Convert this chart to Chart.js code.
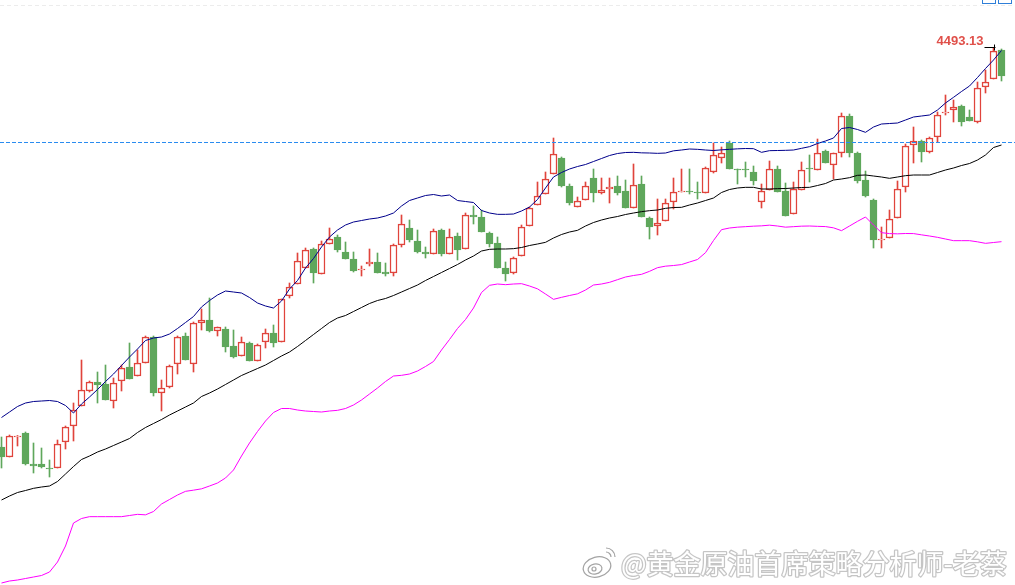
<!DOCTYPE html>
<html lang="zh-CN">
<head>
<meta charset="UTF-8">
<title>黄金 K线 布林带</title>
<script src="https://cdn.jsdelivr.net/npm/chart.js"></script>
<style>
  html, body { margin: 0; padding: 0; background: #fff; }
  #wrap { position: relative; width: 1015px; height: 585px; overflow: hidden; }
</style>
</head>
<body>
<div id="wrap"><canvas id="kline" width="1015" height="585"></canvas></div>
<script>
// OHLC, one value per candle
const opens = [
  4013.6, 4001.6, 4025.6, 4030.4, 3993.2, 3993.2, 3988.4, 3988.4, 4019.6, 4038.8,
  4062.8, 4080.8, 4091.6, 4089.2, 4068.8, 4092.8, 4109.6, 4098.8, 4114.4, 4145.6,
  4078.4, 4085.6, 4113.2, 4146.8, 4113.2, 4162.4, 4166, 4152.8, 4155.2, 4134.8,
  4122.8, 4138.4, 4116.8, 4139.6, 4150.4, 4139.6, 4194.8, 4209.2, 4228.4, 4251.2,
  4221.2, 4257.2, 4265.6, 4247.6, 4239.2, 4226, 4233.2, 4235.6, 4223.6, 4222.4,
  4256, 4276.4, 4260.8, 4247.6, 4245.2, 4274, 4245.2, 4266.8, 4251.2, 4292,
  4289.6, 4270.4, 4258.4, 4228.4, 4222.4, 4242.8, 4278.8, 4304, 4317.2, 4341.2,
  4360.4, 4326.8, 4301.6, 4310, 4336.4, 4318.4, 4323.2, 4326.8, 4320.8, 4300.4,
  4329.2, 4288.4, 4278.8, 4284.8, 4307.6, 4319.6, 4320.8, 4319.6, 4318.4, 4343.6,
  4360.4, 4378.4, 4347.2, 4347.2, 4343.6, 4307.6, 4322, 4347.2, 4320.8, 4293.2,
  4322, 4348.4, 4346, 4368.8, 4352, 4366.4, 4410.8, 4366.4, 4334, 4310,
  4262, 4264.4, 4288.4, 4325.6, 4376, 4380.8, 4367.6, 4385.6, 4414.4, 4418,
  4422.8, 4409.6, 4403.6, 4445.6, 4455.2, 4490
];
const highs = [
  4025.6, 4028, 4027.4, 4031.6, 4018.4, 4012.4, 3998, 4022, 4038.8, 4066.4,
  4118, 4092.8, 4103.6, 4112, 4096.4, 4112, 4138.4, 4130, 4146.8, 4146.8,
  4094, 4112, 4146.8, 4150.4, 4163.6, 4179.2, 4192.4, 4157.6, 4157.6, 4154,
  4145.6, 4139.6, 4137.2, 4155.2, 4160, 4191.2, 4210.4, 4246.4, 4252.4, 4252.4,
  4260.8, 4276.4, 4268, 4259.6, 4247.6, 4230.8, 4251.2, 4246.4, 4234.4, 4257.2,
  4292, 4286, 4274, 4253.6, 4275.2, 4275.2, 4275.2, 4270.4, 4294.4, 4302.8,
  4298, 4271.6, 4265.6, 4235.6, 4241.6, 4280, 4301.6, 4331.6, 4343.6, 4384.4,
  4361.6, 4329.2, 4313.6, 4331.6, 4347.2, 4336.4, 4336.4, 4338.8, 4334, 4353.2,
  4338.8, 4289.6, 4311.2, 4311.2, 4336.4, 4347.2, 4347.2, 4331.6, 4349.6, 4378.4,
  4373.6, 4380.8, 4347.2, 4355.6, 4350.8, 4329.2, 4356.8, 4350.8, 4330.4, 4331.6,
  4355.6, 4364, 4383.2, 4370, 4366.4, 4414.4, 4413.2, 4367.6, 4344.8, 4311.2,
  4277.6, 4298, 4332.8, 4377.2, 4397.6, 4382, 4385.6, 4415.6, 4436, 4430,
  4424, 4418, 4451.6, 4466, 4493.13, 4491.2
];
const lows = [
  3988.4, 4001.6, 4014.8, 3992, 3982.4, 3988.4, 3977.6, 3988.4, 4011.2, 4020.8,
  4062.8, 4079.6, 4066.4, 4070, 4060.4, 4080.8, 4095.2, 4098.8, 4114.4, 4074.8,
  4056.8, 4084.4, 4101.2, 4118, 4103.6, 4154, 4151.6, 4146.8, 4127.6, 4120.4,
  4122.8, 4116.8, 4116.8, 4132.4, 4133.6, 4139.6, 4192.4, 4209.2, 4228.4, 4210.4,
  4221.2, 4257.2, 4247.6, 4239.2, 4223.6, 4218.8, 4230.8, 4222.4, 4218.8, 4218.8,
  4253.6, 4259.6, 4246.4, 4240.4, 4245.2, 4242.8, 4245.2, 4238, 4251.2, 4281.2,
  4271.6, 4253.6, 4228.4, 4212.8, 4221.2, 4242.8, 4278.8, 4304, 4317.2, 4341.2,
  4325.6, 4304, 4301.6, 4310, 4307.6, 4317.2, 4306.4, 4316, 4300.4, 4300.4,
  4289.6, 4263.2, 4268, 4284.8, 4299.2, 4319.6, 4317.2, 4311.2, 4318.4, 4342.4,
  4354.4, 4347.2, 4329.2, 4337.6, 4328, 4300.4, 4322, 4319.6, 4290.8, 4293.2,
  4322, 4331.6, 4346, 4354.4, 4335.2, 4361.6, 4361.6, 4330.4, 4313.6, 4252.4,
  4252.4, 4264.4, 4288.4, 4319.6, 4354.4, 4355.6, 4366.4, 4379.6, 4412, 4403.6,
  4398.8, 4404.8, 4402.4, 4438.4, 4455.2, 4452.8
];
const closes = [
  4001.6, 4026.8, 4026.8, 3993.2, 3990.8, 3989.6, 3987.2, 4017.2, 4037.6, 4058,
  4082, 4091.6, 4088, 4070, 4090.4, 4108.4, 4095.2, 4114.4, 4145.6, 4078.4,
  4084.4, 4110.8, 4145.6, 4118, 4162.4, 4166, 4152.8, 4157.6, 4133.6, 4121.6,
  4139.6, 4116.8, 4136, 4150.4, 4138.4, 4191.2, 4205.6, 4236.8, 4250, 4222.4,
  4257.2, 4263.2, 4250, 4239.2, 4224.8, 4227.2, 4235.6, 4222.4, 4221.2, 4256,
  4281.2, 4262, 4247.6, 4245.2, 4272.8, 4245.2, 4265.6, 4250, 4292, 4289.6,
  4271.6, 4257.2, 4228.4, 4221.2, 4240.4, 4277.6, 4300.4, 4314.8, 4335.2, 4365.2,
  4326.8, 4306.4, 4308.8, 4326.8, 4318.4, 4322, 4325.6, 4318.4, 4300.4, 4328,
  4289.6, 4277.6, 4282.4, 4306.4, 4319.6, 4320.8, 4319.6, 4318.4, 4348.4, 4364,
  4366.4, 4347.2, 4346, 4346, 4332.8, 4320.8, 4347.2, 4319.6, 4290.8, 4323.2,
  4346, 4347.2, 4366.4, 4354.4, 4366.4, 4410.8, 4366.4, 4332.8, 4314.8, 4262,
  4263.2, 4287.2, 4323.2, 4374.8, 4380.8, 4367.6, 4384.4, 4412, 4415.6, 4421.6,
  4403.6, 4404.8, 4444.4, 4451.6, 4488.8, 4458.8
];

// Bollinger bands
const upperBand = [
  4049, 4055.6, 4062.2, 4066.4, 4068.2, 4068.8, 4069.4, 4068.2, 4063.4, 4054.4,
  4065.2, 4073.6, 4082.6, 4092.2, 4101.2, 4111.4, 4121.6, 4131.2, 4141.4, 4144.4,
  4145.6, 4149.2, 4155.8, 4163, 4170.2, 4181.6, 4189.4, 4196, 4200.8, 4199.6,
  4198.4, 4193, 4186.4, 4182.8, 4180.4, 4188.8, 4203.2, 4213.4, 4228.4, 4239.8,
  4253.6, 4265.6, 4274, 4280, 4283.6, 4285.4, 4287.2, 4288.4, 4290.8, 4294.4,
  4302.8, 4309.4, 4312.4, 4315.4, 4316.6, 4314.8, 4316, 4309.4, 4308.2, 4307,
  4297.4, 4294.4, 4292.8, 4292.8, 4293.2, 4296.8, 4301.6, 4310.6, 4324.4, 4337.6,
  4343, 4347.2, 4350.2, 4352.6, 4356.2, 4359.8, 4363.4, 4365.8, 4367, 4367.2,
  4366.6, 4366.4, 4366, 4366.4, 4369, 4370, 4371.2, 4370.8, 4370, 4369.4,
  4370.2, 4370.8, 4371.4, 4371.8, 4371.6, 4367.2, 4369.2, 4369.4, 4369.6, 4370,
  4372, 4374, 4377.8, 4380.8, 4384.4, 4395.8, 4397, 4394.6, 4391.2, 4397.6,
  4401.2, 4401.8, 4402.4, 4406, 4409.6, 4410.8, 4412, 4418, 4426.4, 4433.2,
  4440.2, 4446.8, 4457, 4467.8, 4478, 4489.4
];
const midBand = [
  3950, 3954.8, 3959, 3961.4, 3964, 3965.6, 3966.8, 3972.2, 3981.2, 3990.2,
  3998.6, 4002.8, 4007.6, 4011.2, 4015.4, 4019.6, 4023.8, 4031, 4037, 4041.8,
  4046.6, 4052, 4056.8, 4061.6, 4066.4, 4074.2, 4078.4, 4083.2, 4088.6, 4094,
  4099.4, 4103.6, 4107.8, 4112, 4117.4, 4122.8, 4127.6, 4134.2, 4141.4, 4148.6,
  4155.8, 4163, 4168.4, 4171.4, 4176.2, 4181, 4185.8, 4189.4, 4191.8, 4195.4,
  4199.6, 4203.8, 4208, 4213.4, 4218.2, 4223, 4227.8, 4232.6, 4238, 4242.8,
  4248.8, 4250.8, 4251.2, 4251.2, 4251.6, 4253, 4255.4, 4257.2, 4259.2, 4264.4,
  4268.6, 4271.6, 4273.6, 4278.8, 4283, 4286, 4288.4, 4290.2, 4292.6, 4294.4,
  4296, 4297.2, 4298, 4300, 4301, 4301.2, 4304, 4306.4, 4309.4, 4312.4,
  4319, 4322.6, 4324.4, 4325.2, 4325.2, 4323.2, 4323.2, 4323.6, 4323.8, 4324.4,
  4325, 4325.2, 4327.4, 4329.8, 4334, 4335.2, 4336.8, 4339.6, 4340, 4338.8,
  4337.6, 4336, 4337.6, 4339.2, 4340, 4340, 4340, 4343, 4346, 4348.4,
  4351.4, 4353.8, 4358, 4364, 4373, 4376
];
const lowerBand = [
  3850.4, 3852.8, 3854, 3855.8, 3857.6, 3859.4, 3863.6, 3875.6, 3894.8, 3922.4,
  3927.8, 3930, 3930, 3930, 3930, 3930, 3931.4, 3932.8, 3932.2, 3936.2,
  3945.2, 3950.6, 3956, 3960.4, 3961.8, 3963.4, 3966.8, 3970.4, 3976.4, 3986,
  4002.8, 4018.4, 4032.2, 4044.8, 4055, 4059.8, 4059.8, 4058, 4056.8, 4056.2,
  4055.6, 4056.8, 4057.6, 4059.8, 4064, 4070, 4077.2, 4084.4, 4092.2, 4098.8,
  4099.6, 4101.2, 4104.8, 4110.2, 4116.2, 4130, 4142.6, 4155.8, 4166.6, 4180.4,
  4199, 4207.6, 4209.2, 4208.4, 4209.2, 4209.6, 4206.8, 4203.4, 4197.2, 4190.8,
  4193.2, 4195.4, 4197.4, 4202, 4208, 4209.2, 4211.2, 4214.4, 4217.6, 4219.4,
  4220.8, 4224.4, 4228.8, 4230.6, 4231.4, 4232.5, 4235.6, 4238.6, 4246.8, 4261.4,
  4274.4, 4276.4, 4277.4, 4278, 4278.6, 4279, 4279.8, 4278.8, 4277.4, 4278,
  4278.6, 4278.8, 4278.4, 4278.1, 4276.6, 4273.2, 4278.8, 4284.4, 4289.6, 4280,
  4270.8, 4269.7, 4269.4, 4269.8, 4269.7, 4268.2, 4266.8, 4265.2, 4263.2, 4261.2,
  4261.2, 4261.2, 4259.8, 4258, 4259, 4260
];

const levelPrice = 4380;          // dashed horizontal level
const markIndex = 124;            // candle carrying the high label
const markLabel = '4493.13';
const watermark = '@黄金原油首席策略分析师-老蔡';

const UP = '#e0443c';
const DOWN = '#5fa75c';

const idx = opens.map((_, i) => i);
const isUp = idx.map(i => closes[i] >= opens[i]);
const asLine = arr => arr.map((v, i) => ({ x: i, y: v }));

// white background
const bgPlugin = {
  id: 'bg',
  beforeDraw(chart) {
    const ctx = chart.ctx;
    ctx.save();
    ctx.fillStyle = '#ffffff';
    ctx.fillRect(0, 0, chart.width, chart.height);
    ctx.restore();
  }
};

// level line, high label, watermark etc.
const overlayPlugin = {
  id: 'overlay',
  afterDatasetsDraw(chart) {
    const ctx = chart.ctx;
    const xs = chart.scales.x, ys = chart.scales.y;
    ctx.save();

    // faint dashed line along the top
    ctx.strokeStyle = '#ececec';
    ctx.lineWidth = 1;
    ctx.setLineDash([4, 3]);
    ctx.beginPath();
    ctx.moveTo(0, 5.5);
    ctx.lineTo(chart.width, 5.5);
    ctx.stroke();

    // dashed price level
    const ly = Math.round(ys.getPixelForValue(levelPrice)) + 0.5;
    ctx.strokeStyle = '#2a8cf0';
    ctx.setLineDash([4, 2]);
    ctx.beginPath();
    ctx.moveTo(0, ly);
    ctx.lineTo(chart.width, ly);
    ctx.stroke();
    ctx.setLineDash([]);

    // high marker + label
    const mx = xs.getPixelForValue(markIndex);
    const my = Math.round(ys.getPixelForValue(highs[markIndex])) + 0.5;
    ctx.strokeStyle = '#000';
    ctx.beginPath();
    ctx.moveTo(mx - 9, my);
    ctx.lineTo(mx + 2, my);
    ctx.moveTo(Math.round(mx) + 0.5, my - 3);
    ctx.lineTo(Math.round(mx) + 0.5, my + 3);
    ctx.stroke();
    ctx.fillStyle = '#e0504a';
    ctx.font = 'bold 13px "Liberation Sans", Arial, sans-serif';
    ctx.textAlign = 'right';
    ctx.textBaseline = 'alphabetic';
    ctx.fillText(markLabel, mx - 10, my - 3);

    // small toolbar boxes in the top right corner
    ctx.strokeStyle = '#2f7fd8';
    ctx.lineWidth = 1;
    ctx.strokeRect(982.5, -3.5, 13, 7);
    ctx.strokeRect(998.5, -3.5, 13, 7);

    // weibo logo
    ctx.lineWidth = 1.2;
    ctx.strokeStyle = 'rgba(140,140,140,0.8)';
    ctx.fillStyle = '#ffffff';
    ctx.beginPath();
    ctx.ellipse(597, 567, 14, 10, -0.25, 0, Math.PI * 2);
    ctx.fill();
    ctx.stroke();
    ctx.beginPath();
    ctx.ellipse(595, 569, 7, 5, -0.2, 0, Math.PI * 2);
    ctx.stroke();
    ctx.beginPath();
    ctx.arc(594, 569, 2, 0, Math.PI * 2);
    ctx.stroke();
    ctx.beginPath();
    ctx.arc(606, 557, 5, -Math.PI / 2, 0);
    ctx.stroke();
    ctx.beginPath();
    ctx.arc(606, 557, 9, -Math.PI / 2, 0);
    ctx.stroke();

    // watermark text
    ctx.font = '27px "Noto Sans CJK SC", sans-serif';
    ctx.textAlign = 'left';
    ctx.lineJoin = 'round';
    ctx.lineWidth = 2.5;
    ctx.strokeStyle = 'rgba(150,150,150,0.55)';
    ctx.strokeText(watermark, 621, 574);
    ctx.fillStyle = '#ffffff';
    ctx.fillText(watermark, 621, 574);

    ctx.restore();
  }
};

new Chart(document.getElementById('kline'), {
  type: 'bar',
  data: {
    datasets: [
      {
        type: 'line',
        label: 'UP',
        data: asLine(upperBand),
        borderColor: '#00008b',
        borderWidth: 1,
        pointRadius: 0,
        tension: 0,
        order: 0
      },
      {
        type: 'line',
        label: 'MID',
        data: asLine(midBand),
        borderColor: '#000000',
        borderWidth: 1,
        pointRadius: 0,
        tension: 0,
        order: 0
      },
      {
        type: 'line',
        label: 'DN',
        data: asLine(lowerBand),
        borderColor: '#ff00ff',
        borderWidth: 1,
        pointRadius: 0,
        tension: 0,
        order: 0
      },
      {
        label: 'body',
        data: idx.map(i => ({ x: i, y: [opens[i], closes[i]] })),
        backgroundColor: idx.map(i => isUp[i] ? '#ffffff' : DOWN),
        borderColor: idx.map(i => isUp[i] ? UP : DOWN),
        borderWidth: idx.map(i => isUp[i] ? 1.5 : 1),
        borderSkipped: false,
        barThickness: 7,
        minBarLength: 1,
        grouped: false,
        order: 1
      },
      {
        label: 'wick',
        data: idx.map(i => ({ x: i, y: [lows[i], highs[i]] })),
        backgroundColor: idx.map(i => isUp[i] ? UP : DOWN),
        borderWidth: 0,
        barThickness: 1,
        grouped: false,
        order: 2
      }
    ]
  },
  options: {
    responsive: false,
    animation: false,
    events: [],
    layout: { padding: 0 },
    scales: {
      x: { type: 'linear', offset: false, min: -0.1875, max: 126.6875, display: false },
      y: { type: 'linear', min: 3848, max: 4550, display: false }
    },
    plugins: {
      legend: { display: false },
      tooltip: { enabled: false }
    }
  },
  plugins: [bgPlugin, overlayPlugin]
});
</script>
</body>
</html>
